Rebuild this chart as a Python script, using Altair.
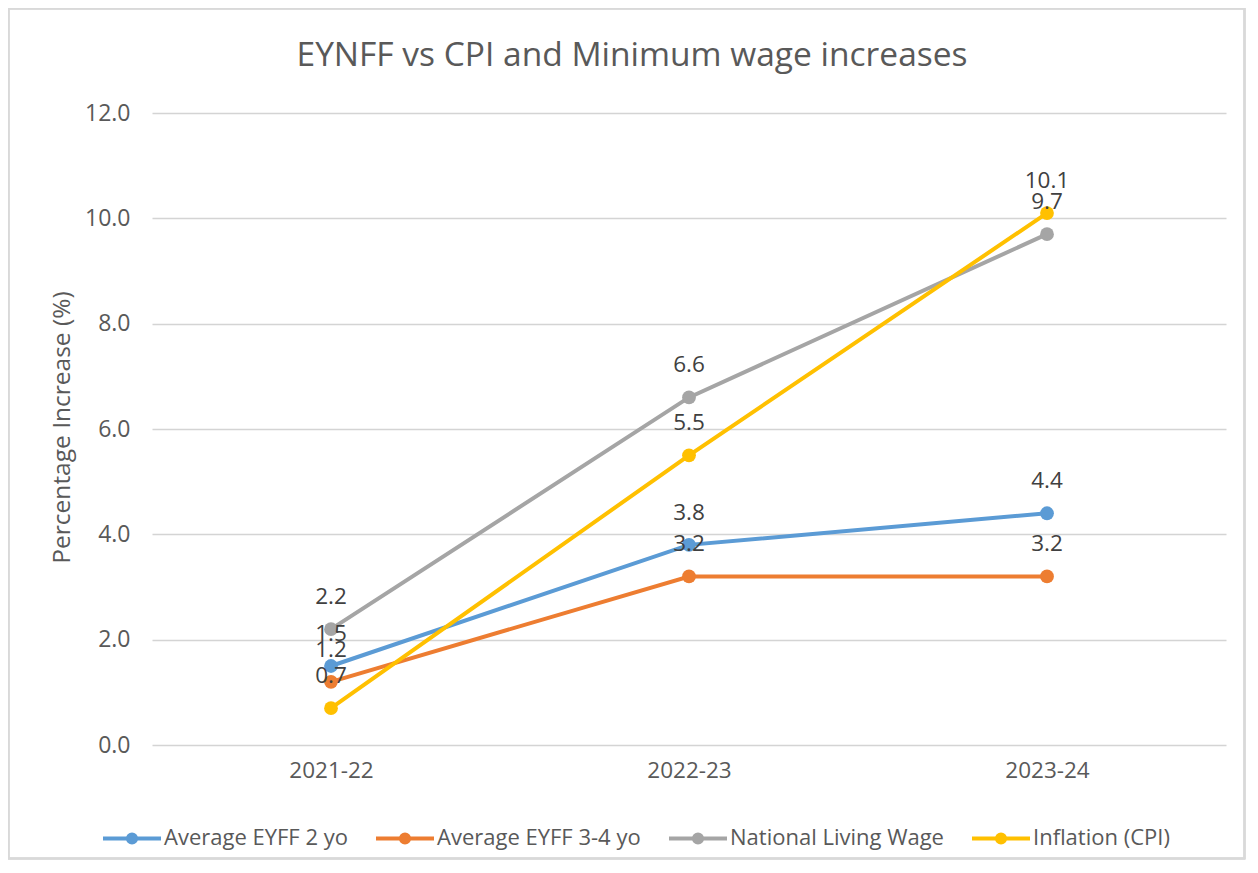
import altair as alt
import pandas as pd

years = ["2021-22", "2022-23", "2023-24"]
series = ["Average EYFF 2 yo", "Average EYFF 3-4 yo", "National Living Wage", "Inflation (CPI)"]
eyff2 = [1.5, 3.8, 4.4]
eyff34 = [1.2, 3.2, 3.2]
nlw = [2.2, 6.6, 9.7]
cpi = [0.7, 5.5, 10.1]
colors = ["#5B9BD5", "#ED7D31", "#A5A5A5", "#FFC000"]

rows = []
for si, (name, vals) in enumerate(zip(series, [eyff2, eyff34, nlw, cpi])):
    for y, v in zip(years, vals):
        rows.append({"Year": y, "Series": name, "Value": v, "order": si})
df = pd.DataFrame(rows)

FONT = "Open Sans"
W, H = 1074, 632

color = alt.Color(
    "Series:N",
    scale=alt.Scale(domain=series, range=colors),
    legend=alt.Legend(
        title=None, orient="none", legendX=-51, legendY=694, direction="horizontal",
        columns=4, columnPadding=20,
        symbolType="M-1,0L1,0M0.14,0A0.14,0.14,0,1,1,-0.14,0A0.14,0.14,0,1,1,0.14,0Z",
        symbolSize=3364, symbolStrokeWidth=4, labelOffset=1,
        labelFont=FONT, labelFontSize=22, labelColor="#595959", labelLimit=400,
    ),
)

x = alt.X("Year:N", sort=years, title=None,
          scale=alt.Scale(paddingInner=0, paddingOuter=0),
          axis=alt.Axis(labelAngle=0, domain=False, ticks=False, grid=False,
                        labelPadding=14, labelFont=FONT, labelFontSize=22.5, labelColor="#595959"))
y = alt.Y("Value:Q", title="Percentage Increase (%)",
          scale=alt.Scale(domain=[0, 12], nice=False),
          axis=alt.Axis(values=[0, 2, 4, 6, 8, 10, 12], format=".1f", domain=False, ticks=False,
                        gridColor="#D4D4D4", gridWidth=1.3, labelPadding=22,
                        labelFont=FONT, labelFontSize=23, labelColor="#595959",
                        titleFont=FONT, titleFontSize=24.5, titleColor="#595959", titleFontWeight="normal",
                        titleX=-90, titleY=H / 2 - 2, titleAngle=-90, titleAlign="center", titleBaseline="middle"))

base = alt.Chart(df).encode(x=x, y=y, color=color, order=alt.Order("order:Q"))

lines = base.mark_line(strokeWidth=4)
points = base.mark_point(filled=True, size=190, opacity=1)
labels = alt.Chart(df).mark_text(dy=-32, font=FONT, fontSize=22.5, color="#404040").encode(
    x=alt.X("Year:N", sort=years), y="Value:Q", text=alt.Text("Value:Q", format=".1f"))

border = alt.Chart(df).mark_rect(fill=None, stroke="#D9D9D9", strokeWidth=1.5).encode(
    x=alt.value(-143.5), x2=alt.value(W + 18.5), y=alt.value(-104.5), y2=alt.value(H + 113.5))

chart = alt.layer(border, lines, points, labels).properties(
    width=W, height=H,
    title=alt.Title("EYNFF vs CPI and Minimum wage increases", font=FONT, fontSize=33.5,
                    fontWeight="normal", color="#595959", anchor="middle", dx=-57, offset=-82,
                    baseline="middle"),
    autosize=alt.AutoSizeParams(type="none"),
    padding={"left": 144, "top": 105, "right": 20, "bottom": 115},
).configure_view(stroke=None)

chart.save("out.html", embed_options={"renderer": "svg", "actions": False})
